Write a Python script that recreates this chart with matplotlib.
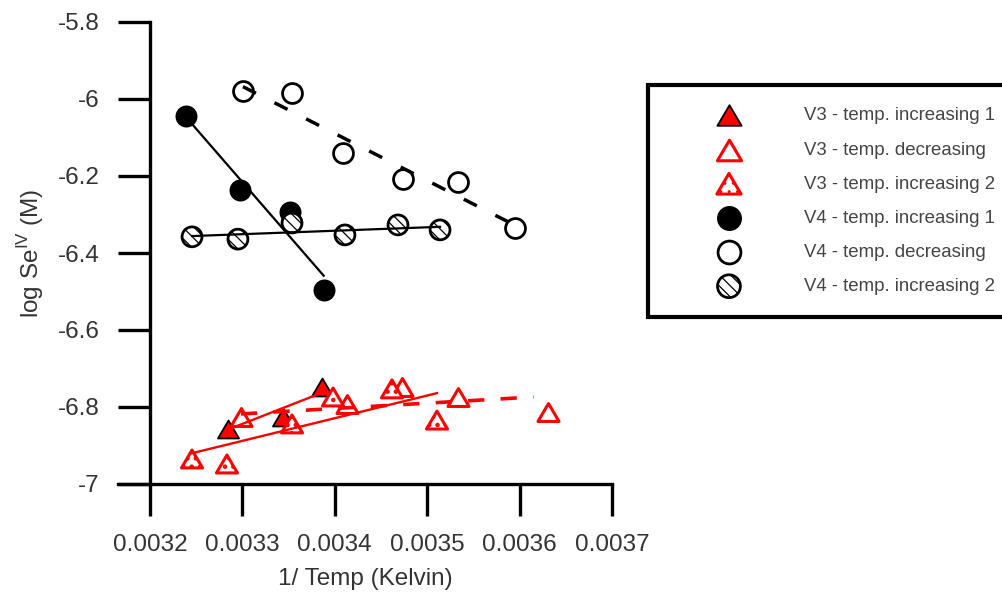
import matplotlib

matplotlib.use("Agg")
import matplotlib.pyplot as plt
from matplotlib.path import Path
from matplotlib.ticker import FixedLocator, FuncFormatter

plt.rcParams["font.family"] = ["Liberation Sans", "DejaVu Sans"]
plt.rcParams["mathtext.fontset"] = "custom"
plt.rcParams["mathtext.rm"] = "Liberation Sans"

TEXT = "#333333"
RED = "#ff0000"

# V3 runs (red triangles): x = 1/T, y = log Se(IV)
v3_inc1_x = [0.003284, 0.003344, 0.003386]
v3_inc1_y = [-6.857, -6.826, -6.748]
v3_dec_x = [0.0032985, 0.003413, 0.003473, 0.003533, 0.003631]
v3_dec_y = [-6.826, -6.792, -6.748, -6.774, -6.813]
v3_inc2_x = [0.0032455, 0.0032833, 0.0033537, 0.0033981, 0.0034619, 0.0035106]
v3_inc2_y = [-6.935, -6.948, -6.844, -6.774, -6.753, -6.834]

# V4 runs (black circles)
v4_inc1_x = [0.003239, 0.003297, 0.003352, 0.003388]
v4_inc1_y = [-6.044, -6.236, -6.294, -6.496]
v4_dec_x = [0.0033006, 0.0033537, 0.0034089, 0.0034738, 0.0035333, 0.003595]
v4_dec_y = [-5.979, -5.984, -6.140, -6.208, -6.216, -6.335]
v4_inc2_x = [0.0032455, 0.0032952, 0.0033537, 0.003411, 0.0034684, 0.0035139]
v4_inc2_y = [-6.358, -6.364, -6.322, -6.353, -6.327, -6.340]

# trend lines, end points
v3_inc1_fit_x = [0.003285, 0.003386]
v3_inc1_fit_y = [-6.858, -6.763]
v3_dec_fit_x = [0.0032985, 0.003615]
v3_dec_fit_y = [-6.818, -6.774]
v3_inc2_fit_x = [0.0032455, 0.0035106]
v3_inc2_fit_y = [-6.920, -6.764]
v4_inc1_fit_x = [0.003239, 0.003388]
v4_inc1_fit_y = [-6.047, -6.459]
v4_dec_fit_x = [0.0033006, 0.003595]
v4_dec_fit_y = [-5.968, -6.328]
v4_inc2_fit_x = [0.0032455, 0.0035139]
v4_inc2_fit_y = [-6.356, -6.332]

labels = [
    "V3 - temp. increasing 1",
    "V3 - temp. decreasing",
    "V3 - temp. increasing 2",
    "V4 - temp. increasing 1",
    "V4 - temp. decreasing",
    "V4 - temp. increasing 2",
]

x_ticks = [0.0032, 0.0033, 0.0034, 0.0035, 0.0036, 0.0037]
y_ticks = [-7.0, -6.8, -6.6, -6.4, -6.2, -6.0, -5.8]

# flatter triangle than matplotlib's "^"
TRI = Path([(-1, -0.85), (1, -0.85), (0, 0.85), (-1, -0.85)],
           [Path.MOVETO, Path.LINETO, Path.LINETO, Path.CLOSEPOLY])

fig = plt.figure(figsize=(10.02, 6.03), dpi=100)
ax = fig.add_axes([118 / 1002, 1 - 484 / 603, (612 - 118) / 1002, (484 - 22) / 603])

S_TRI = 230
S_CIR = 205
handles = []
handles.append(ax.scatter(v3_inc1_x, v3_inc1_y, s=S_TRI, marker=TRI, facecolor=RED,
                          edgecolor="black", linewidths=1.3, zorder=2))
handles.append(ax.scatter(v3_dec_x, v3_dec_y, s=S_TRI, marker=TRI, facecolor="white",
                          edgecolor=RED, linewidths=2.2, zorder=2))
# stippled triangles: heavier hatch stroke so the dots show
plt.rcParams["hatch.linewidth"] = 2.0
handles.append(ax.scatter(v3_inc2_x, v3_inc2_y, s=S_TRI, marker=TRI, facecolor="white",
                          edgecolor=RED, linewidths=2.2, hatch="..", zorder=2))
plt.rcParams["hatch.linewidth"] = 0.9
handles.append(ax.scatter(v4_inc1_x, v4_inc1_y, s=S_CIR, marker="o", facecolor="black",
                          edgecolor="black", linewidths=1.5, zorder=2))
handles.append(ax.scatter(v4_dec_x, v4_dec_y, s=S_CIR, marker="o", facecolor="white",
                          edgecolor="black", linewidths=2.0, zorder=2))
handles.append(ax.scatter(v4_inc2_x, v4_inc2_y, s=S_CIR, marker="o", facecolor="white",
                          edgecolor="black", linewidths=2.0, hatch="\\\\\\", zorder=2))

ax.plot(v3_inc1_fit_x, v3_inc1_fit_y, color=RED, lw=1.7, zorder=3)
ax.plot(v3_dec_fit_x, v3_dec_fit_y, color=RED, lw=2.6, dashes=(4.5, 4.5), zorder=3)
ax.plot(v3_inc2_fit_x, v3_inc2_fit_y, color=RED, lw=1.7, zorder=3)
ax.plot(v4_inc1_fit_x, v4_inc1_fit_y, color="black", lw=1.6, zorder=3)
ax.plot(v4_dec_fit_x, v4_dec_fit_y, color="black", lw=2.5, dashes=(4.2, 6.0), zorder=3)
ax.plot(v4_inc2_fit_x, v4_inc2_fit_y, color="black", lw=1.6, zorder=3)

ax.set_xlim(0.0031654, 0.0037)
ax.set_ylim(-7.0, -5.8)
for side in ("top", "right"):
    ax.spines[side].set_visible(False)
ax.spines["left"].set_position(("data", 0.0032))
for side in ("left", "bottom"):
    ax.spines[side].set_linewidth(2.4)
ax.xaxis.set_major_locator(FixedLocator(x_ticks))
ax.yaxis.set_major_locator(FixedLocator(y_ticks))
ax.xaxis.set_major_formatter(FuncFormatter(lambda v, p: f"{v:.4f}"))
ax.yaxis.set_major_formatter(FuncFormatter(lambda v, p: f"{v:g}"))
ax.tick_params(direction="out", length=23, width=2.4, pad=13,
               labelsize=17.5, labelcolor=TEXT)

ax.set_xlabel("1/ Temp (Kelvin)", fontsize=17.5, color=TEXT, labelpad=9)
ax.set_ylabel(r"log Se$^{\mathrm{IV}}$ (M)", fontsize=17.5, color=TEXT, labelpad=9)

leg = ax.legend(handles, labels, loc="upper left",
                bbox_to_anchor=(648 / 1002, 1 - 85 / 603),
                bbox_transform=fig.transFigure, borderaxespad=0,
                fontsize=13.4, scatterpoints=1, markerscale=1.15,
                borderpad=1.2, labelspacing=0.92, handlelength=6.3,
                handletextpad=0.9, fancybox=False, framealpha=1)
leg.get_frame().set_edgecolor("black")
leg.get_frame().set_linewidth(3)
for t in leg.get_texts():
    t.set_color("#444444")

fig.savefig("out.png", dpi=100)
